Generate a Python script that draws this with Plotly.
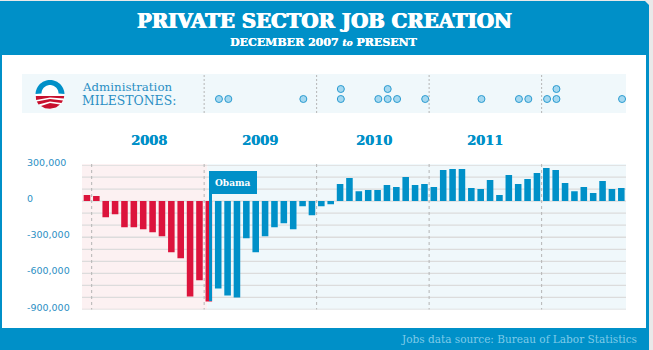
import math
import plotly.graph_objects as go

W, H = 653, 350
BLUE = "#0090c8"
RED = "#dc143c"

month_names = "Jan Feb Mar Apr May Jun Jul Aug Sep Oct Nov Dec".split()
months = (
    ["Dec 2007"]
    + [f"{m} 2008" for m in month_names]
    + [f"{m} 2009" for m in month_names]
    + [f"{m} 2010" for m in month_names]
    + [f"{m} 2011" for m in month_names]
    + [f"{m} 2012" for m in month_names[:9]]
)
jobs = [
    50000, 42000, -133000, -108000, -217000, -217000, -233000, -258000, -292000,
    -425000, -475000, -792000, -658000, -833000,
    -725000, -783000, -800000, -308000, -425000, -292000, -217000, -183000,
    -233000, -42000, -117000,
    -42000, -25000, 142000, 192000, 83000, 92000, 92000, 133000, 117000, 200000,
    133000, 142000,
    117000, 258000, 267000, 267000, 108000, 100000, 175000, 50000, 217000, 142000,
    183000, 233000,
    275000, 258000, 150000, 83000, 117000, 67000, 167000, 100000, 108000,
]
bar_colors = [RED] * 14 + [BLUE] * (len(jobs) - 14)

milestone_months = ["Feb 2009", "Mar 2009", "Nov 2009", "Mar 2010", "Mar 2010",
                    "Jul 2010", "Aug 2010", "Aug 2010", "Sep 2010", "Dec 2010",
                    "Jun 2011", "Oct 2011", "Nov 2011", "Jan 2012", "Feb 2012",
                    "Feb 2012", "Sep 2012"]
milestone_rows = [0, 0, 0, 0, 1, 0, 0, 1, 0, 0, 0, 0, 0, 0, 0, 1, 0]

y_ticks = [300000, 0, -300000, -600000, -900000]
y_labels = ["300,000", "0", "-300,000", "-600,000", "-900,000"]
year_labels = ["2008", "2009", "2010", "2011"]
year_breaks = [0.5, 12.5, 24.5, 36.5, 48.5]
grid_vals = list(range(-900000, 300001, 100000))


def px(x):
    return x / W


def py(y):
    return 1 - y / H


def rect(x0, y0, x1, y1, color, layer="below"):
    return dict(type="rect", xref="paper", yref="paper", x0=px(x0), x1=px(x1),
                y0=py(y0), y1=py(y1), fillcolor=color, line_width=0, layer=layer)


def path(d, color, layer="above"):
    return dict(type="path", xref="paper", yref="paper", path=d, fillcolor=color,
                line_width=0, layer=layer)


def P(pts):
    return "M " + " L ".join(f"{px(a):.5f},{py(b):.5f}" for a, b in pts) + " Z"


def arc(cx, cy, r, a0, a1, n=30):
    return [(cx + r * math.cos(math.radians(a0 + (a1 - a0) * i / n)),
             cy - r * math.sin(math.radians(a0 + (a1 - a0) * i / n))) for i in range(n + 1)]


fig = go.Figure()
fig.add_trace(go.Bar(x=months, y=jobs, marker_color=bar_colors, marker_line_width=0,
                     width=0.7, xaxis="x", yaxis="y", showlegend=False))
fig.add_trace(go.Scatter(x=milestone_months, y=milestone_rows, mode="markers",
                         marker=dict(size=7, color="#a5d8f0",
                                     line=dict(color="#2a9bd0", width=1)),
                         xaxis="x2", yaxis="y2", showlegend=False))

shapes = [
    rect(0, 0, W, H, "#e9e9e9"),
    rect(0, 1, 649, 350, BLUE),
    rect(2, 55, 646, 328, "#ffffff"),
    rect(22, 74, 626, 113, "#f0f8fb"),
    rect(82, 164, 207.5, 309.5, "#fcf1f2"),
    rect(207.5, 164, 626, 309.5, "#f0f8fb"),
    path(P([(645, 1), (649, 1), (649, 5)]), "#e9e9e9", "below"),
]
for v in grid_vals:
    shapes.append(dict(type="line", xref="paper", yref="y", x0=px(82), x1=px(626), y0=v, y1=v,
                       layer="below", line=dict(color="#dcdcdc", width=1.3)))
for b in year_breaks:
    shapes.append(dict(type="line", xref="x", yref="paper", x0=b, x1=b,
                       y0=py(164), y1=py(309.5), layer="above",
                       line=dict(color="#b5b5b5", width=1, dash="3px,3px")))
for b in year_breaks[1:]:
    shapes.append(dict(type="line", xref="x", yref="paper", x0=b, x1=b,
                       y0=py(75), y1=py(113), layer="above",
                       line=dict(color="#b5b5b5", width=1, dash="2px,2px")))
shapes.append(rect(209, 171, 212, 301, BLUE, "above"))
shapes.append(rect(209, 171, 257, 194, BLUE, "above"))
# campaign logo
cx, cy = 50, 94.5
shapes.append(path(P(arc(cx, cy, 14.5, 0, 360, 60)), "#ffffff"))
shapes.append(path(P(arc(cx, cy, 14.5, 2, 178) + arc(cx, cy - 1, 8.5, 180, 0)), BLUE))
shapes.append(path(P([(35.8, 96), (64.2, 96), (63.8, 98.5), (50, 97.5), (36.1, 100)]), "#c8102e"))
shapes.append(path(P([(36.8, 101.5), (50, 99), (63, 100.5), (61.5, 103), (50, 101.5), (38.5, 104.5)]), "#c8102e"))
shapes.append(path(P([(41, 106), (50, 103), (60, 104.5), (56, 107.5), (50, 108.7), (45, 108.3)]), "#c8102e"))

annotations = []


def text(x, y, s, size, color, family, anchor="center", shadow=None):
    font = dict(size=size, color=color, family=family)
    if shadow:
        font["shadow"] = shadow
    annotations.append(dict(xref="paper", yref="paper", x=px(x), y=py(y), text=s,
                            showarrow=False, xanchor=anchor, yanchor="middle", font=font))


SERIF = "DejaVu Serif"
text(324, 22, "<b>PRIVATE SECTOR JOB CREATION</b>", 19.7, "#ffffff", SERIF,
     shadow="0.6px 0 0 #ffffff, -0.6px 0 0 #ffffff")
text(324, 42, "<b>DECEMBER 2007 <i style='font-size:9px'>to</i> PRESENT</b>", 11, "#ffffff", SERIF,
     shadow="0.3px 0 0 #ffffff")
text(80, 87, "Administration", 11.8, "#2a8fc4", SERIF, "left")
text(80, 100, "MILESTONES:", 12.4, "#2a8fc4", SERIF, "left")
text(232.5, 182.7, "<b>Obama</b>", 9, "#ffffff", SERIF)
text(639, 339, "Jobs data source: Bureau of Labor Statistics", 10.5, "#7fcbe8", SERIF, "right")
for lab, xpos in zip(year_labels, [149, 260, 373.7, 485]):
    text(xpos, 140, f"<b>{lab}</b>", 13, BLUE, SERIF, shadow=f"0.4px 0 0 {BLUE}")
for val, lab in zip(y_ticks, y_labels):
    annotations.append(dict(xref="paper", yref="y", x=px(25), y=val, text=lab, showarrow=False,
                            xanchor="left", yanchor="middle", yshift=2.5,
                            font=dict(size=9.5, color="#2a8fc4", family="DejaVu Sans")))

x_domain = [px(82), px(626)]
fig.update_layout(
    width=W, height=H, margin=dict(l=0, r=0, t=0, b=0), autosize=False,
    paper_bgcolor="#ffffff", plot_bgcolor="rgba(0,0,0,0)", bargap=0.3,
    shapes=shapes, annotations=annotations,
    xaxis=dict(domain=x_domain, type="category", categoryorder="array", categoryarray=months,
               range=[-0.53, 57.5], showticklabels=False, showgrid=False, zeroline=False, ticks="",
               automargin=False),
    yaxis=dict(domain=[py(309.5), py(165)], range=[-900000, 300000], tickvals=y_ticks,
               showticklabels=False, ticks="", showgrid=False, zeroline=False, automargin=False),
    xaxis2=dict(domain=x_domain, type="category", categoryorder="array", categoryarray=months,
                range=[-0.61, 57.42], showticklabels=False, showgrid=False, zeroline=False,
                anchor="y2", ticks="", automargin=False),
    yaxis2=dict(domain=[py(113), py(74)], range=[-1.4, 2.5], anchor="x2", visible=False,
                automargin=False),
)
fig.write_html("out.html", config={"displayModeBar": False},
               post_script="document.body.style.margin='0';document.body.style.overflow='hidden';")
